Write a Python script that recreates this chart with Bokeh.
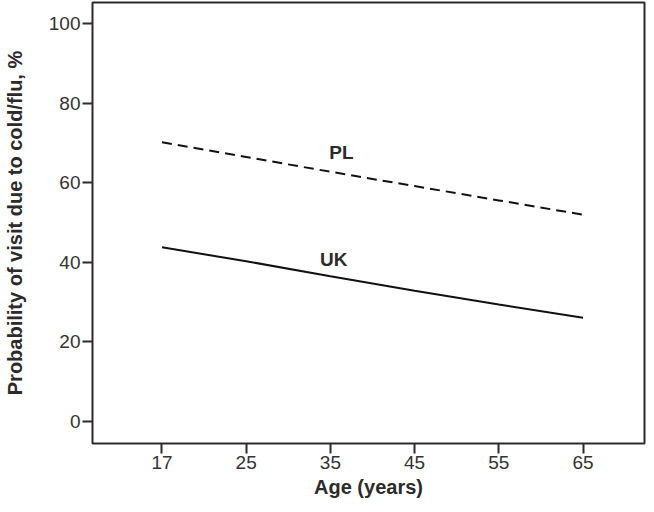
from bokeh.plotting import figure
from bokeh.models import FixedTicker, Range1d, ColumnDataSource
from bokeh.core.properties import value
from bokeh.embed import file_html
from bokeh.resources import INLINE

# Data
age_labels = ["17", "25", "35", "45", "55", "65"]
age_pos = [0, 1, 2, 3, 4, 5]
pl_prob = [70.2, 66.5, 62.8, 59.2, 55.6, 52.0]
uk_prob = [43.8, 40.3, 36.5, 32.9, 29.4, 26.1]
y_ticks = [0, 20, 40, 60, 80, 100]
series_names = ["PL", "UK"]
name_x = [2.13, 2.04]
name_y = [67.6, 40.7]

FONT = "Liberation Sans"
DARK = "#2b2b2b"

p = figure(width=646, height=504, output_backend="svg", toolbar_location=None,
           x_range=Range1d(-0.825, 5.73), y_range=Range1d(-5.53, 105.36),
           min_border_left=88, min_border_right=2, min_border_top=2, min_border_bottom=61)

p.line(age_pos, pl_prob, line_color="#111111", line_width=2, line_dash="10 6")
p.line(age_pos, uk_prob, line_color="#111111", line_width=2)

src = ColumnDataSource(dict(x=name_x, y=name_y, t=series_names))
p.text(x="x", y="y", text="t", source=src, text_font=value(FONT), text_font_style="bold",
       text_font_size="19px", text_align="center", text_baseline="middle", text_color=DARK)

p.grid.visible = False
p.background_fill_color = "white"
p.border_fill_color = "white"
p.outline_line_color = DARK
p.outline_line_width = 2
p.outline_line_alpha = 1

p.xaxis.ticker = FixedTicker(ticks=age_pos)
p.xaxis.major_label_overrides = {pos: lab for pos, lab in zip(age_pos, age_labels)}
p.yaxis.ticker = FixedTicker(ticks=y_ticks)

for ax in (p.xaxis[0], p.yaxis[0]):
    ax.axis_line_color = None
    ax.major_tick_line_color = DARK
    ax.major_tick_line_width = 2
    ax.major_tick_out = 10
    ax.major_tick_in = 0
    ax.minor_tick_line_color = None
    ax.major_label_text_font = FONT
    ax.major_label_text_font_size = "19px"
    ax.major_label_text_color = "#333333"
    ax.axis_label_text_font = FONT
    ax.axis_label_text_font_style = "bold"
    ax.axis_label_text_font_size = "20px"
    ax.axis_label_text_color = DARK

p.xaxis.axis_label = "Age (years)"
p.yaxis.axis_label = "Probability of visit due to cold/flu, %"
p.xaxis.major_label_standoff = 2
p.yaxis.major_label_standoff = 2
p.xaxis.axis_label_standoff = 4
p.yaxis.axis_label_standoff = 20

open("out.html", "w").write(file_html(p, INLINE))
